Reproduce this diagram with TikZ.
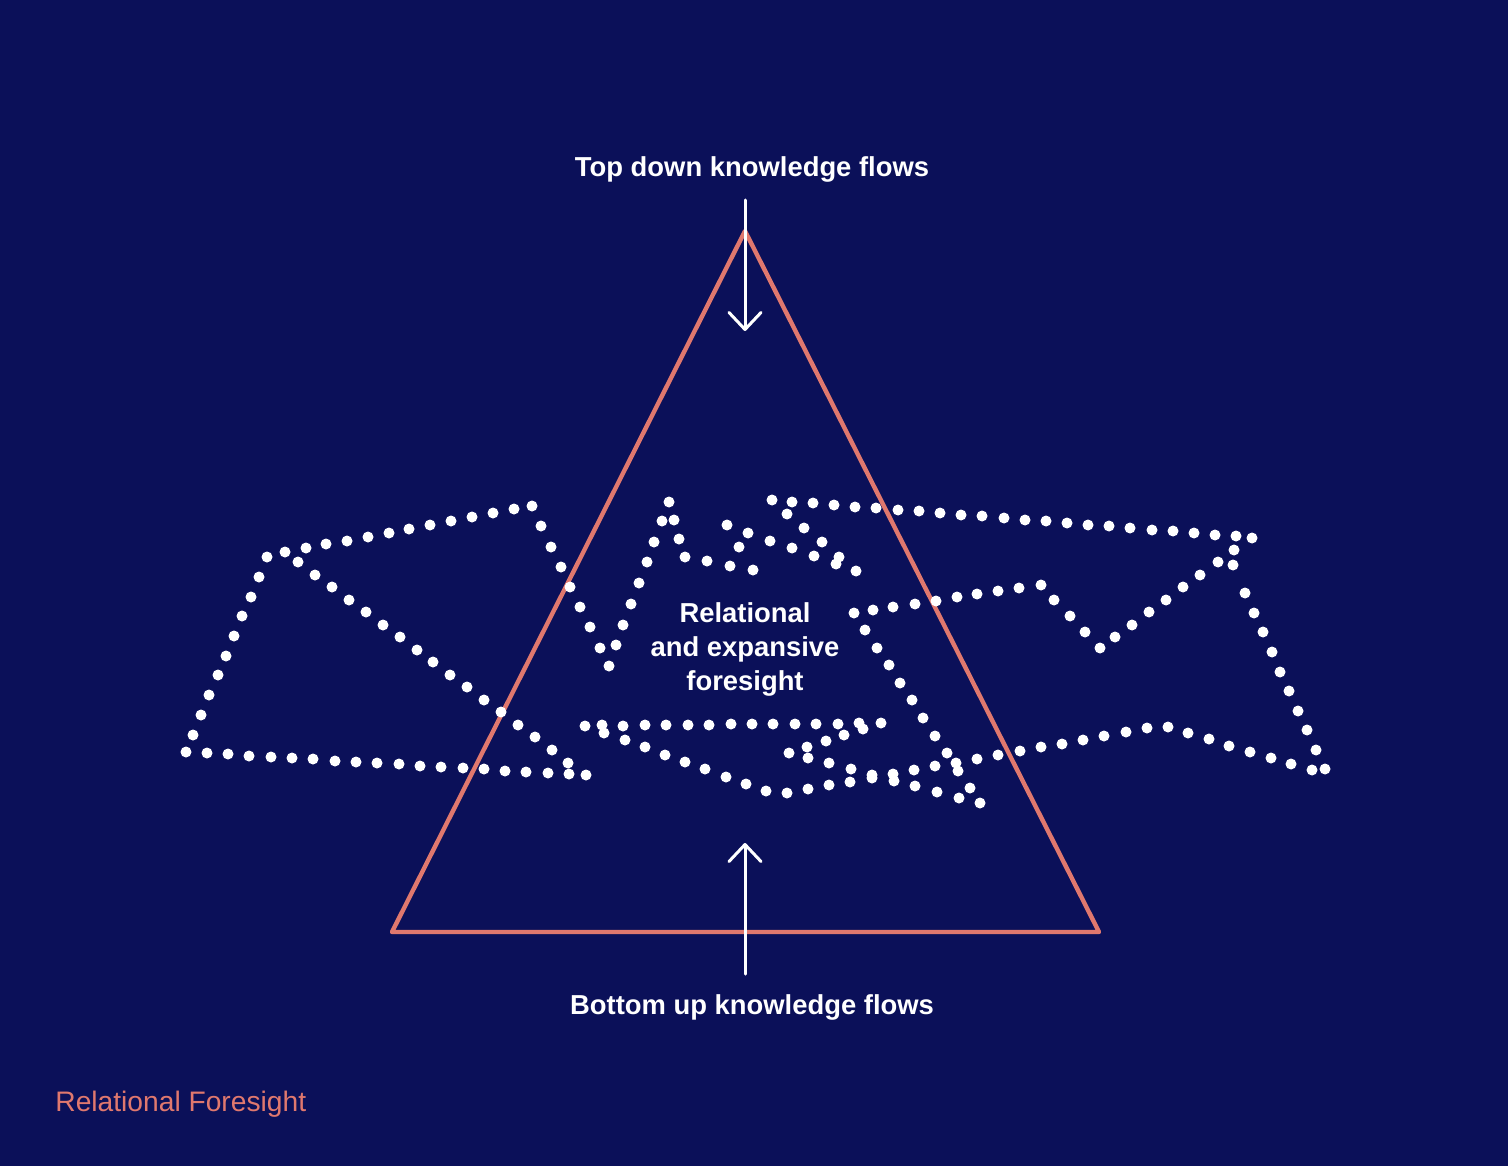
\documentclass[tikz,border=0pt]{standalone}
\usepackage{fontspec}
\setmainfont{Liberation Sans}
\usetikzlibrary{arrows.meta}
\definecolor{bgnavy}{RGB}{11,16,89}
\definecolor{salmon}{RGB}{224,120,110}
\tikzset{
  dotmark/.style={fill=white},
  trianglestroke/.style={draw=salmon, line width=2.2pt, line join=round, line cap=round},
  flowarrow/.style={draw=white, line width=1.5pt, line cap=round, -{Straight Barb[round,length=8.5pt,width=16pt]}},
  headtext/.style={text=white, font=\fontsize{13.7pt}{17pt}\selectfont\bfseries, inner sep=0pt},
  centertext/.style={text=white, font=\fontsize{13.7pt}{17pt}\selectfont\bfseries, align=center, inner sep=0pt},
  brandtext/.style={text=salmon, font=\fontsize{14.1pt}{17pt}\selectfont, inner sep=0pt}
}
\begin{document}
\begin{tikzpicture}[x=0.5pt,y=-0.5pt]
\fill[bgnavy] (0,0) rectangle (1508,1166);
\useasboundingbox (0,0) rectangle (1508,1166);
% triangle
\coordinate (apex) at (745,231);
\coordinate (bl) at (392,932);
\coordinate (br) at (1099,932);
\draw[trianglestroke] (apex) -- (bl) -- (br) -- cycle;
% dots
\foreach \p in {
(186,752),(207,753),(228,754),(249,756),(271,757),(292,758),(313,759),(335,761),(356,762),(377,763),(399,764),(420,766),(441,767),(463,768),(484,769),(505,771),(526,772),(548,773),(569,774),(586,775),
(193,735),(201,715),(209,695),(218,675),(226,656),(234,636),(242,616),(251,597),(259,577),(267,557),
(285,552),(306,548),(326,544),(347,541),(368,537),(389,533),(409,529),(430,525),(451,521),(472,517),(493,513),(514,509),(532,506),
(541,526),(551,547),(561,567),(570,587),(580,607),(590,627),(600,648),(609,666),
(298,562),(315,575),(332,587),(349,600),(366,612),(383,625),(400,637),(417,650),(433,662),(450,675),(467,687),(484,700),(501,712),(518,725),(535,737),(552,750),(568,763),
(616,645),(623,625),(631,604),(639,583),(647,562),(654,542),(662,521),(669,502),(674,520),(679,539),(685,557),(707,561),(730,566),(753,570),
(727,525),(748,533),(739,547),(770,541),(772,500),(792,502),(787,514),(804,528),(822,542),(792,548),(814,556),(839,557),(836,564),(856,571),
(813,503),(834,505),(855,507),(876,508),(898,510),(919,511),(940,513),(961,515),(982,516),(1004,518),(1025,520),(1046,521),(1067,523),(1088,525),(1109,526),(1130,528),(1152,530),(1173,531),(1194,533),(1215,535),(1236,536),(1252,538),
(1234,550),(1233,565),(1218,562),(1200,575),(1183,587),(1166,600),(1149,612),(1132,625),(1115,637),(1100,648),(1085,632),(1070,616),(1054,600),(1041,585),(1019,588),(998,591),(977,594),(957,597),(936,601),(915,604),(893,607),(873,610),(854,613),
(1245,593),(1254,613),(1263,632),(1272,652),(1280,672),(1289,691),(1298,711),(1307,730),(1316,750),(1325,769),(1312,770),
(1291,764),(1271,758),(1250,752),(1229,746),(1209,739),(1188,733),(1168,727),(1147,728),(1126,732),(1104,736),(1083,740),(1062,744),(1041,747),(1020,751),(998,755),(977,759),(958,771),(956,763),(935,766),(914,770),(915,786),(937,792),(959,798),(970,788),(980,803),
(865,630),(877,648),(889,665),(900,683),(912,700),(923,718),(935,736),(947,753),
(585,726),(602,725),(604,733),(623,726),(645,725),(666,725),(688,725),(709,725),(731,724),(752,724),(773,724),(795,724),(816,724),(838,724),(859,723),(863,729),(881,723),
(625,740),(645,747),(665,755),(685,762),(705,769),(726,777),(746,784),(766,791),(787,793),(808,789),(829,785),(850,782),(872,778),(872,775),(893,774),(894,781),
(789,753),(807,747),(826,741),(844,735),(808,758),(829,763),(851,769)
}
\fill[dotmark] \p circle (2.75pt);
% arrows
\coordinate (topstart) at (745,200);
\coordinate (topend) at (745,331);
\coordinate (botstart) at (745,974);
\coordinate (botend) at (745,843);
\draw[flowarrow] (topstart) -- (topend);
\draw[flowarrow] (botstart) -- (botend);
% texts
\node[headtext, anchor=base] (toplabel) at (752,177) {Top down knowledge flows};
\node[headtext, anchor=base] (botlabel) at (752,1014) {Bottom up knowledge flows};
\node[centertext, anchor=center] (centerlabel) at (745,649) {Relational\\and expansive\\foresight};
\node[brandtext, anchor=base west] (brand) at (55,1111) {Relational Foresight};
\end{tikzpicture}
\end{document}
